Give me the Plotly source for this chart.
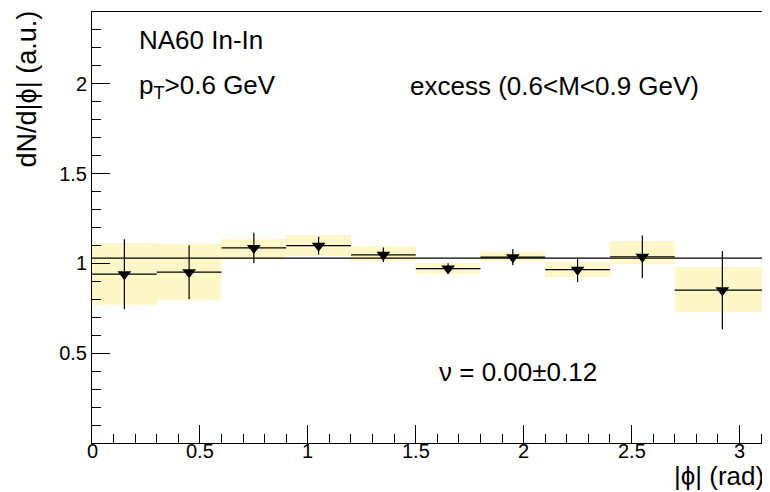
import math
import plotly.graph_objects as go

# Data
bin_lo = [0.0, 0.3, 0.6, 0.9, 1.2, 1.5, 1.8, 2.1, 2.4, 2.7]
bin_hi = [0.3, 0.6, 0.9, 1.2, 1.5, 1.8, 2.1, 2.4, 2.7, math.pi]
values = [0.94, 0.951, 1.086, 1.099, 1.048, 0.971, 1.035, 0.965, 1.037, 0.851]
stat_err = [0.195, 0.15, 0.085, 0.05, 0.04, 0.03, 0.045, 0.068, 0.118, 0.218]
sys_lo = [0.771, 0.797, 1.024, 1.043, 1.013, 0.94, 1.013, 0.924, 0.996, 0.727]
sys_hi = [1.112, 1.106, 1.136, 1.159, 1.097, 1.005, 1.062, 1.009, 1.125, 0.98]
fit_value = 1.03
x_tick_vals = [0, 0.5, 1, 1.5, 2, 2.5, 3]
x_tick_text = ["0", "0.5", "1", "1.5", "2", "2.5", "3"]
y_tick_vals = [0.5, 1, 1.5, 2]
y_tick_text = ["0.5", "1", "1.5", "2"]

centers = [(a + b) / 2 for a, b in zip(bin_lo, bin_hi)]
half_w = [(b - a) / 2 for a, b in zip(bin_lo, bin_hi)]
widths = [b - a for a, b in zip(bin_lo, bin_hi)]

FONT = "Liberation Sans, Arial, Helvetica, sans-serif"

fig = go.Figure()

# systematic boxes
fig.add_trace(go.Bar(
    x=centers, y=[h - l for h, l in zip(sys_hi, sys_lo)], base=sys_lo,
    width=widths, marker=dict(color="#FFF7C8", line=dict(width=0)),
    hoverinfo="skip", showlegend=False))

# constant fit line
fig.add_trace(go.Scatter(
    x=[0, math.pi], y=[fit_value, fit_value], mode="lines",
    line=dict(color="black", width=1.2), showlegend=False))

# data points
fig.add_trace(go.Scatter(
    x=centers, y=values, mode="markers",
    marker=dict(symbol="triangle-down", size=12, color="black"),
    error_x=dict(type="data", array=half_w, width=0, color="black", thickness=1.2),
    error_y=dict(type="data", array=stat_err, width=0, color="black", thickness=1.2),
    showlegend=False))

# page has an 8px body margin: figure origin sits at (8, 8) in the window
OFF = 8
W, H = 762, 484
L, R, T = 92 - OFF, 0, 12 - OFF
B = H - (443 - OFF)
pw, ph = W - L - R, H - T - B

def px(x_page):
    return (x_page - OFF - L) / pw

def py(y_page):
    return (H - B - (y_page - OFF)) / ph

axis_common = dict(
    showgrid=False, zeroline=False, showline=True, linecolor="black", linewidth=1,
    mirror=True, ticks="inside", ticklen=18, tickcolor="black", tickwidth=1,
    tickfont=dict(family=FONT, size=20, color="black"),
)

fig.update_xaxes(range=[0, math.pi], tickvals=x_tick_vals, showticklabels=False,
                 minor=dict(ticks="inside", ticklen=9, dtick=0.1, tick0=0, tickcolor="black"),
                 **axis_common)
fig.update_yaxes(range=[0, 2.4], tickvals=y_tick_vals, ticktext=y_tick_text,
                 minor=dict(ticks="inside", ticklen=9, dtick=0.1, tick0=0, tickcolor="black"),
                 **axis_common)

annotations = [
    dict(text="NA60 In-In", x=px(137), y=py(40), xanchor="left", yanchor="middle"),
    dict(text="p<sub>T</sub>>0.6 GeV", x=px(137), y=py(86), xanchor="left", yanchor="middle"),
    dict(text="excess (0.6<M<0.9 GeV)", x=px(554), y=py(86), xanchor="center", yanchor="middle"),
    dict(text="ν = 0.00±0.12", x=px(518), y=py(372), xanchor="center", yanchor="middle"),
    dict(text="|ϕ| (rad)", x=px(766), y=py(476), xanchor="right", yanchor="middle"),
    dict(text="dN/d|ϕ| (a.u.)", x=px(27), y=py(9), xanchor="center", yanchor="top",
         textangle=-90, size=27),
]
for a in annotations:
    size = a.pop("size", 26)
    a.update(xref="paper", yref="paper", showarrow=False,
             font=dict(family=FONT, size=size, color="black"))

# x tick labels placed at their data positions
for v, t in zip(x_tick_vals, x_tick_text):
    annotations.append(dict(text=t, x=v, xref="x", y=py(451), yref="paper",
                            xanchor="center", yanchor="middle", showarrow=False,
                            font=dict(family=FONT, size=20, color="black")))

fig.update_layout(
    width=W, height=H, margin=dict(l=L, r=R, t=T, b=B, pad=0),
    paper_bgcolor="white", plot_bgcolor="white",
    barmode="overlay", bargap=0, annotations=annotations,
)

fig.write_html("out.html")
